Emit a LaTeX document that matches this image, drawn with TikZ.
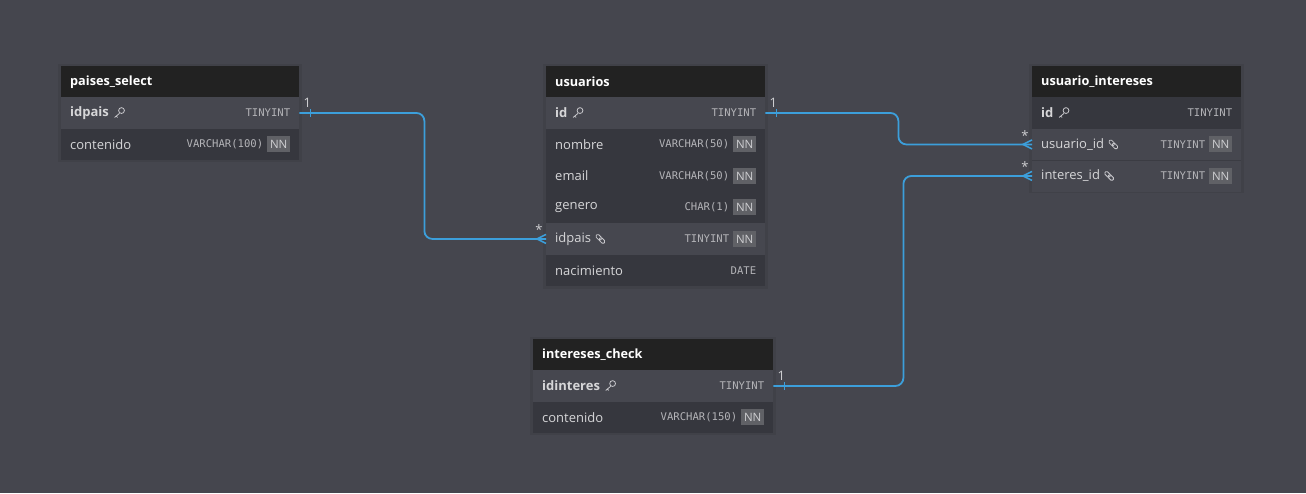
\documentclass[tikz,border=0pt]{standalone}
\usepackage{fontspec}
\setmainfont{Open Sans}
\newfontfamily\monof{DejaVu Sans Mono}
\usetikzlibrary{calc}
\definecolor{bgc}{HTML}{45464E}
\definecolor{hdrc}{HTML}{222222}
\definecolor{rowc}{HTML}{36373E}
\definecolor{rowhc}{HTML}{46474F}
\definecolor{sepc}{HTML}{3B3C43}
\definecolor{fldc}{HTML}{D6D6D8}
\definecolor{typc}{HTML}{B4B4B8}
\definecolor{nnc}{HTML}{606166}
\definecolor{nntc}{HTML}{CFCFD2}
\definecolor{relc}{HTML}{3C9FDB}
\definecolor{cardc}{HTML}{CFCFD2}
\definecolor{iconc}{HTML}{C8C8CC}
\tikzset{
  hdr/.style={fill=hdrc, draw=none, minimum height=31pt, inner sep=0pt, anchor=north west},
  rowd/.style={fill=rowc, draw=none, minimum height=31.5pt, inner sep=0pt, anchor=north west},
  rowh/.style={fill=rowhc, draw=none, minimum height=31.5pt, inner sep=0pt, anchor=north west},
  hdrtxt/.style={font=\fontsize{12.7}{14}\selectfont\bfseries, text=white, anchor=west, inner sep=0pt},
  fld/.style={font=\fontsize{13}{15}\selectfont, text=fldc, anchor=west, inner sep=0pt},
  fldb/.style={font=\fontsize{13}{15}\selectfont\bfseries, text=fldc, anchor=west, inner sep=0pt},
  typ/.style={font=\monof\fontsize{10.6}{12}\selectfont, text=typc, anchor=east, inner sep=0pt},
  nn/.style={fill=nnc, text=nntc, font=\fontsize{11.5}{13}\selectfont, minimum width=23pt, minimum height=16pt, inner sep=0pt, anchor=east},
  rel/.style={draw=relc, line width=1.8pt, rounded corners=8pt},
  relmark/.style={draw=relc, line width=1.5pt},
  card/.style={text=cardc, font=\fontsize{13}{14}\selectfont, inner sep=0pt},
  shadowbox/.style={fill=black, opacity=0.07, draw=none},
  keyicon/.pic={
    \draw[iconc, line width=0.8pt] (2.4,-2.4) circle (2.9pt);
    \draw[iconc, line width=0.8pt] (0.4,0.4) -- (-4.5,4.5) (-3,3) -- (-1.5,4.5);
  },
  linkicon/.pic={
    \draw[iconc, line width=0.8pt, rotate=-45, rounded corners=1.3pt] (-5.4,-1.8) rectangle (0.8,1.8);
    \draw[iconc, line width=0.8pt, rotate=-45, rounded corners=1.3pt] (-0.8,-1.8) rectangle (5.4,1.8);
  },
}
% #1 name, #2 row style, #3 x, #4 y, #5 width, #6 field style, #7 field text, #8 type
\newcommand\trow[8]{%
  \node[#2, minimum width=#5pt] (#1) at (#3,#4) {};
  \node[#6] (#1-f) at ([xshift=9pt]#1.west) {#7};
  \node[typ] (#1-t) at ([xshift=-9pt]#1.east) {#8};
}
\newcommand\trownn[8]{%
  \node[#2, minimum width=#5pt] (#1) at (#3,#4) {};
  \node[#6] (#1-f) at ([xshift=9pt]#1.west) {#7};
  \node[nn] (#1-n) at ([xshift=-9pt]#1.east) {NN};
  \node[typ] (#1-t) at ([xshift=-36pt]#1.east) {#8};
}
\newcommand\thdr[5]{% name x y width text
  \node[hdr, minimum width=#4pt] (#1) at (#2,#3) {};
  \node[hdrtxt] (#1-txt) at ([xshift=9pt]#1.west) {#5};
}
\begin{document}
\begin{tikzpicture}[x=1pt,y=-1pt]
\useasboundingbox[fill=bgc] (0,0) rectangle (1306,493);

% shadows
\fill[shadowbox] (58,64) rectangle (302,162);
\fill[shadowbox] (543,64) rectangle (768,289);
\fill[shadowbox] (1029,64) rectangle (1244,193);
\fill[shadowbox] (530,337) rectangle (776,435);

% paises_select
\thdr{ps}{61}{66}{238}{paises\_select}
\trow{ps-idpais}{rowh}{61}{97}{238}{fldb}{idpais}{TINYINT}
\trownn{ps-cont}{rowd}{61}{128.5}{238}{fld}{contenido}{VARCHAR(100)}
\pic at ([xshift=10pt]ps-idpais-f.east) {keyicon};

% usuarios
\thdr{us}{546}{66}{219}{usuarios}
\trow{us-id}{rowh}{546}{97}{219}{fldb}{id}{TINYINT}
\trownn{us-nombre}{rowd}{546}{128.5}{219}{fld}{nombre}{VARCHAR(50)}
\trownn{us-email}{rowd}{546}{160}{219}{fld}{email}{VARCHAR(50)}
\trownn{us-genero}{rowd}{546}{191.5}{219}{fld}{genero}{CHAR(1)}
\trownn{us-idpais}{rowh}{546}{223}{219}{fld}{idpais}{TINYINT}
\trow{us-nac}{rowd}{546}{254.5}{219}{fld}{nacimiento}{DATE}
\pic at ([xshift=10pt]us-id-f.east) {keyicon};
\pic at ([xshift=9pt]us-idpais-f.east) {linkicon};

% usuario_intereses
\thdr{ui}{1032}{66}{209}{usuario\_intereses}
\trow{ui-id}{rowd}{1032}{97}{209}{fldb}{id}{TINYINT}
\trownn{ui-usuario}{rowh}{1032}{128.5}{209}{fld}{usuario\_id}{TINYINT}
\trownn{ui-interes}{rowh}{1032}{160}{209}{fld}{interes\_id}{TINYINT}
\pic at ([xshift=10pt]ui-id-f.east) {keyicon};
\pic at ([xshift=9pt]ui-usuario-f.east) {linkicon};
\pic at ([xshift=9pt]ui-interes-f.east) {linkicon};
\draw[sepc, line width=0.6pt] (ui-interes.north west) -- (ui-interes.north east);

% intereses_check
\thdr{ic}{533}{339}{240}{intereses\_check}
\trow{ic-id}{rowh}{533}{370}{240}{fldb}{idinteres}{TINYINT}
\trownn{ic-cont}{rowd}{533}{401.5}{240}{fld}{contenido}{VARCHAR(150)}
\pic at ([xshift=10pt]ic-id-f.east) {keyicon};

% relations
\draw[rel] (ps-idpais.east) -- ++(125,0) |- (us-idpais.west);
\draw[rel] (us-id.east) -- ++(133,0) |- (ui-usuario.west);
\draw[rel] (ic-id.east) -- ++(130,0) |- (ui-interes.west);

% one-side ticks
\draw[relmark] ([xshift=11pt,yshift=4pt]ps-idpais.east) -- ([xshift=11pt,yshift=-4pt]ps-idpais.east);
\draw[relmark] ([xshift=11pt,yshift=4pt]us-id.east) -- ([xshift=11pt,yshift=-4pt]us-id.east);
\draw[relmark] ([xshift=11pt,yshift=4pt]ic-id.east) -- ([xshift=11pt,yshift=-4pt]ic-id.east);
\node[card] (c1a) at ([xshift=8pt,yshift=10pt]ps-idpais.east) {1};
\node[card] (c2a) at ([xshift=8pt,yshift=10pt]us-id.east) {1};
\node[card] (c3a) at ([xshift=8pt,yshift=10pt]ic-id.east) {1};

% many-side crow's feet
\foreach \t in {us-idpais, ui-usuario, ui-interes}{
  \draw[relmark] ([yshift=4.5pt]\t.west) -- ([xshift=-9pt]\t.west) -- ([yshift=-4.5pt]\t.west);
}
\node[card] (c1b) at ([xshift=-7pt,yshift=9pt]us-idpais.west) {*};
\node[card] (c2b) at ([xshift=-7pt,yshift=9pt]ui-usuario.west) {*};
\node[card] (c3b) at ([xshift=-7pt,yshift=9pt]ui-interes.west) {*};
\end{tikzpicture}
\end{document}
